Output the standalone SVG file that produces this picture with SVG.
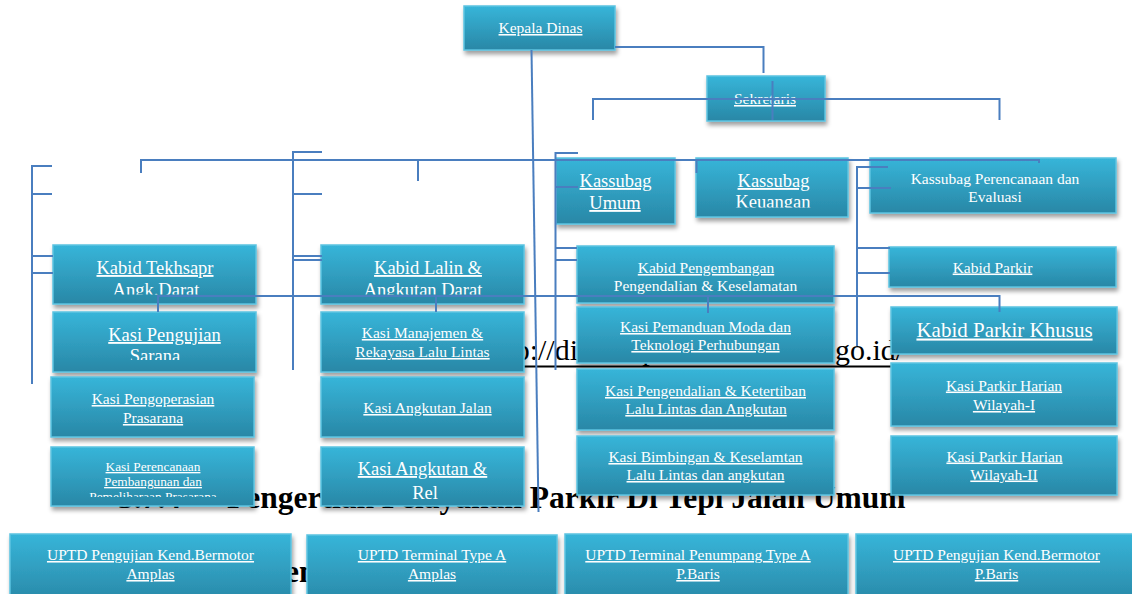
<svg xmlns="http://www.w3.org/2000/svg" width="1132" height="594" viewBox="0 0 1132 594">
<defs>
<linearGradient id="g" x1="0" y1="0" x2="0" y2="1">
<stop offset="0" stop-color="#37B5D9"/>
<stop offset="1" stop-color="#2987A6"/>
</linearGradient>
<filter id="sh" x="-10%" y="-20%" width="125%" height="150%">
<feDropShadow dx="1.5" dy="3.5" stdDeviation="2" flood-color="#000" flood-opacity="0.38"/>
</filter>
<clipPath id="cTek" clipPathUnits="userSpaceOnUse"><rect x="53" y="245" width="203" height="49.5"/></clipPath>
<clipPath id="cLalin" clipPathUnits="userSpaceOnUse"><rect x="321" y="245" width="203" height="49.5"/></clipPath>
<clipPath id="cSarana" clipPathUnits="userSpaceOnUse"><rect x="53" y="312" width="203" height="48"/></clipPath>
<clipPath id="cRel" clipPathUnits="userSpaceOnUse"><rect x="321" y="447" width="203" height="52"/></clipPath>
<clipPath id="cPem" clipPathUnits="userSpaceOnUse"><rect x="51" y="447" width="203" height="50"/></clipPath>
<clipPath id="cKeu" clipPathUnits="userSpaceOnUse"><rect x="696" y="158" width="152" height="49.5"/></clipPath>
</defs>
<style>
.b{fill:url(#g);stroke:#5CC3E1;stroke-width:1.5;filter:url(#sh)}
text{font-family:'Liberation Serif','Times New Roman',serif;fill:#fff;text-anchor:middle}
.t{font-size:15.5px}
.L{font-size:18.5px}
.s{font-size:13.3px}
.xl{font-size:21px}
.u{text-decoration:underline}
.h{font-size:31.5px;font-weight:bold;fill:#000;text-anchor:start}
.url{font-size:30px;fill:#000;text-anchor:start}
.c{fill:none;stroke:#4A7EBF;stroke-width:2}
</style>
<rect width="1132" height="594" fill="#fff"/>
<g id="background-text">
<text class="h" x="118" y="508">3.7.4<tspan x="227">Pengertian Pelayanan Parkir Di Tepi Jalan Umum</tspan></text>
<text class="url" x="483" y="360">http://dishub.pemkomedan.<tspan x="835">go.id/</tspan></text>
<line x1="483" y1="366.5" x2="896" y2="366.5" stroke="#000" stroke-width="1.8"/>
<text class="h" x="285" y="582">en</text>
</g>
<g id="n-kepala-dinas"><rect class="b" x="464" y="6" width="151" height="44"/><text class="t u" x="540.5" y="33">Kepala Dinas</text></g>
<g id="n-sekretaris"><rect class="b" x="707" y="76" width="118" height="45"/><text class="t u" x="765" y="104">Sekretaris</text></g>
<g id="n-kassubag-umum"><rect class="b" x="556" y="158" width="119" height="66"/><text class="L u" x="615.5" y="187">Kassubag</text><text class="L u" x="615" y="209">Umum</text></g>
<g id="n-kassubag-keuangan"><rect class="b" x="696" y="158" width="152" height="59"/><text class="L u" x="773.5" y="187">Kassubag</text><text class="L" x="773" y="208" clip-path="url(#cKeu)">Keuangan</text></g>
<g id="n-kassubag-perencanaan"><rect class="b" x="870" y="158" width="246" height="55"/><text class="t" x="995" y="184">Kassubag Perencanaan dan</text><text class="t" x="995" y="202">Evaluasi</text></g>
<g id="n-kabid-tekhsapr"><rect class="b" x="53" y="245" width="203" height="59"/><text class="L u" x="155" y="274">Kabid Tekhsapr</text><text class="L" x="156" y="296" clip-path="url(#cTek)">Angk.Darat</text></g>
<g id="n-kasi-pengujian"><rect class="b" x="53" y="312" width="203" height="60"/><text class="L u" x="164.5" y="341">Kasi Pengujian</text><text class="L" x="155" y="362" clip-path="url(#cSarana)">Sarana</text></g>
<g id="n-kasi-pengoperasian"><rect class="b" x="51" y="377" width="203" height="60"/><text class="t u" x="153" y="404">Kasi Pengoperasian</text><text class="t u" x="153" y="423">Prasarana</text></g>
<g id="n-kasi-perencanaan"><rect class="b" x="51" y="447" width="203" height="59"/><text class="s u" x="153" y="471">Kasi Perencanaan</text><text class="s u" x="153" y="486">Pembangunan dan</text><text class="s u" x="153" y="501" clip-path="url(#cPem)">Pemeliharaan Prasarana</text></g>
<g id="n-kabid-lalin"><rect class="b" x="321" y="245" width="203" height="59"/><text class="L u" x="428" y="274">Kabid Lalin &amp;</text><text class="L" x="423" y="296" clip-path="url(#cLalin)">Angkutan Darat</text></g>
<g id="n-kasi-manajemen"><rect class="b" x="321" y="312" width="203" height="60"/><text class="t u" x="422.5" y="338">Kasi Manajemen &amp;</text><text class="t u" x="422.5" y="357">Rekayasa Lalu Lintas</text></g>
<g id="n-kasi-angkutan-jalan"><rect class="b" x="321" y="377" width="203" height="60"/><text class="t u" x="427.5" y="413">Kasi Angkutan Jalan</text></g>
<g id="n-kasi-angkutan-rel"><rect class="b" x="321" y="447" width="203" height="59"/><text class="L u" x="422.5" y="475">Kasi Angkutan &amp;</text><text class="L" x="425" y="499" clip-path="url(#cRel)">Rel</text></g>
<g id="n-kabid-pengembangan"><rect class="b" x="577" y="246" width="257" height="57"/><text class="t u" x="706" y="273">Kabid Pengembangan</text><text class="t" x="705.5" y="291">Pengendalian &amp; Keselamatan</text></g>
<g id="n-kasi-pemanduan"><rect class="b" x="577" y="307" width="257" height="56"/><text class="t u" x="705.5" y="332">Kasi Pemanduan Moda dan</text><text class="t u" x="705.5" y="350">Teknologi Perhubungan</text></g>
<g id="n-kasi-pengendalian"><rect class="b" x="577" y="369" width="257" height="61"/><text class="t u" x="705.5" y="396">Kasi Pengendalian &amp; Ketertiban</text><text class="t u" x="706" y="414">Lalu Lintas dan Angkutan</text></g>
<g id="n-kasi-bimbingan"><rect class="b" x="577" y="436" width="257" height="59"/><text class="t u" x="705.5" y="462">Kasi Bimbingan &amp; Keselamtan</text><text class="t u" x="705.5" y="480">Lalu Lintas dan angkutan</text></g>
<g id="n-kabid-parkir"><rect class="b" x="889" y="247" width="227" height="40"/><text class="t u" x="992.5" y="272.5">Kabid Parkir</text></g>
<g id="n-kabid-parkir-khusus"><rect class="b" x="891" y="307" width="226" height="47"/><text class="xl u" x="1004.5" y="336.5">Kabid Parkir Khusus</text></g>
<g id="n-kasi-parkir-1"><rect class="b" x="891" y="363" width="226" height="63"/><text class="t u" x="1004" y="390.5">Kasi Parkir Harian</text><text class="t u" x="1004" y="410">Wilayah-I</text></g>
<g id="n-kasi-parkir-2"><rect class="b" x="891" y="436" width="226" height="59"/><text class="t u" x="1004.5" y="461.5">Kasi Parkir Harian</text><text class="t u" x="1004" y="479.5">Wilayah-II</text></g>
<g id="n-uptd-1"><rect class="b" x="10" y="534" width="281" height="70"/><text class="t u" x="150.5" y="560">UPTD Pengujian Kend.Bermotor</text><text class="t u" x="150.5" y="579">Amplas</text></g>
<g id="n-uptd-2"><rect class="b" x="307" y="535" width="250" height="70"/><text class="t u" x="432" y="560">UPTD Terminal Type A</text><text class="t u" x="432" y="579">Amplas</text></g>
<g id="n-uptd-3"><rect class="b" x="565" y="534" width="283" height="70"/><text class="t u" x="698" y="560">UPTD Terminal Penumpang Type A</text><text class="t u" x="698" y="579">P.Baris</text></g>
<g id="n-uptd-4"><rect class="b" x="856" y="534" width="290" height="70"/><text class="t u" x="996.5" y="560">UPTD Pengujian Kend.Bermotor</text><text class="t u" x="996.5" y="579">P.Baris</text></g>
<g id="connectors" class="c">
<path class="c" d="M531.5,50 L538.5,512"/>
<path class="c" d="M615,47 H763.5 V73"/>
<path class="c" d="M593,120 V99 H999.5 V120"/>
<path class="c" d="M772.5,81 V120"/>
<path class="c" d="M141,173 V160 H1039 V163"/>
<path class="c" d="M418,160 V181"/>
<path class="c" d="M696.5,160 V173"/>
<path class="c" d="M52,166 H32 V384 M32,194 H52 M32,256 H53 M32,273 H53"/>
<path class="c" d="M322,152 H293 V370 M293,194 H322 M293,256 H322 M293,260 H322"/>
<path class="c" d="M578,153 H555.5 V370 M555.5,187 H578 M555.5,248 H577 M555.5,260 H577"/>
<path class="c" d="M888,167 H857 V346 M857,188 H891 M857,248 H890 M857,273 H890"/>
<path class="c" d="M158,312 V296 H999.5 V312 M436,296 V312 M708,296 V313"/>
</g>
</svg>
